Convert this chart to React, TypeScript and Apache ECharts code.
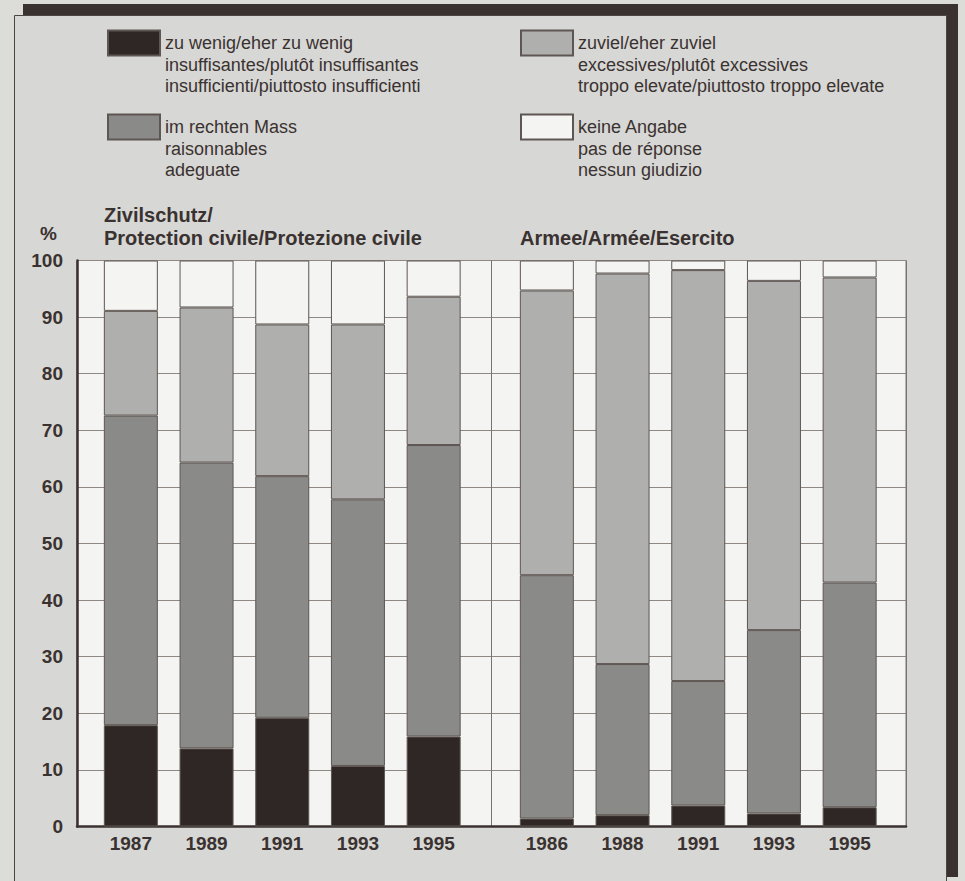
import React, { useEffect, useRef } from "react";
import * as echarts from "echarts";

const yearsZivil = ["1987", "1989", "1991", "1993", "1995"];
const yearsArmee = ["1986", "1988", "1991", "1993", "1995"];

const zivilLow = [17.9, 13.8, 19.2, 10.7, 15.9];
const zivilOk = [54.7, 50.5, 42.7, 47.1, 51.5];
const zivilHigh = [18.5, 27.4, 26.8, 30.9, 26.2];
const zivilNa = [8.9, 8.3, 11.3, 11.3, 6.4];

const armeeLow = [1.4, 2.0, 3.7, 2.3, 3.4];
const armeeOk = [43.0, 26.7, 22.0, 32.4, 39.7];
const armeeHigh = [50.3, 69.0, 72.6, 61.7, 53.9];
const armeeNa = [5.3, 2.3, 1.7, 3.6, 3.0];

const N_LOW = "zu wenig/eher zu wenig\ninsuffisantes/plutôt insuffisantes\ninsufficienti/piuttosto insufficienti";
const N_OK = "im rechten Mass\nraisonnables\nadeguate";
const N_HIGH = "zuviel/eher zuviel\nexcessives/plutôt excessives\ntroppo elevate/piuttosto troppo elevate";
const N_NA = "keine Angabe\npas de réponse\nnessun giudizio";

const TITLE_ZIVIL = "Zivilschutz/\nProtection civile/Protezione civile";
const TITLE_ARMEE = "Armee/Armée/Esercito";

const FONT = "Liberation Sans";
const INK = "#3a3230";
const COLORS: Record<string, string> = {
  [N_LOW]: "#2f2725",
  [N_OK]: "#8a8a88",
  [N_HIGH]: "#afafad",
  [N_NA]: "#f4f4f2",
};

export default function App() {
  const ref = useRef<HTMLDivElement>(null);

  useEffect(() => {
    if (!ref.current) return;
    const chart = echarts.init(ref.current, undefined, { renderer: "svg" });

    const mk = (name: string, data: number[], idx: number, stack: string) => ({
      type: "bar",
      name,
      data,
      xAxisIndex: idx,
      yAxisIndex: idx,
      stack,
      barWidth: 54,
      itemStyle: { color: COLORS[name], borderColor: "#5e5652", borderWidth: 1 },
      emphasis: { disabled: true },
    });

    const LH = 21.5;
    // text block: two blank lines + three text lines, centred on icon centre
    const legendBase = (name: string, left: number, iconCenter: number) => ({
      data: [name],
      left,
      top: iconCenter - 2.5 * LH,
      orient: "vertical",
      padding: 0,
      itemGap: 0,
      itemWidth: 52,
      itemHeight: 25,
      icon: "rect",
      selectedMode: false,
      formatter: (n: string) => "\n\n" + n,
      textStyle: {
        fontFamily: FONT,
        fontSize: 18,
        lineHeight: LH,
        color: INK,
      },
    });

    const gridTop = 260.5;
    const gridH = 566;

    chart.setOption({
      animation: false,
      backgroundColor: "#dcdcd9",
      textStyle: { fontFamily: FONT },
      graphic: [
        {
          type: "rect",
          z: -100,
          silent: true,
          shape: { x: 23, y: 4, width: 935, height: 873 },
          style: { fill: "#3a3230" },
        },
        {
          type: "rect",
          z: -99,
          silent: true,
          shape: { x: 14.5, y: 15.5, width: 932, height: 880 },
          style: { fill: "#d7d7d5", stroke: "#4d4542", lineWidth: 1 },
        },
      ],
      title: [
        {
          text: "%",
          left: 40,
          top: 223,
          padding: 0,
          textStyle: { fontFamily: FONT, fontSize: 19, fontWeight: "bold", color: INK, lineHeight: 20 },
        },
        {
          text: TITLE_ZIVIL,
          left: 104,
          top: 204,
          padding: 0,
          textStyle: { fontFamily: FONT, fontSize: 20, fontWeight: "bold", color: INK, lineHeight: 22.5 },
        },
        {
          text: TITLE_ARMEE,
          left: 520,
          top: 226.5,
          padding: 0,
          textStyle: { fontFamily: FONT, fontSize: 20, fontWeight: "bold", color: INK, lineHeight: 22.5 },
        },
      ],
      legend: [
        legendBase(N_LOW, 107, 43),
        legendBase(N_HIGH, 520, 43),
        legendBase(N_OK, 107, 127),
        legendBase(N_NA, 520, 127),
      ],
      grid: [
        {
          left: 77,
          top: gridTop,
          width: 829,
          height: gridH,
          show: true,
          backgroundColor: "#f4f4f2",
          borderColor: "#7a726e",
          borderWidth: 1,
        },
        { left: 93, top: gridTop, width: 378.5, height: gridH },
        { left: 509, top: gridTop, width: 378.5, height: gridH },
      ],
      xAxis: [
        {
          gridIndex: 0,
          type: "value",
          min: 0,
          max: 2,
          interval: 1,
          axisLabel: { show: false },
          axisTick: { show: false },
          axisLine: { show: true, onZero: false, lineStyle: { color: INK, width: 2.5 } },
          splitLine: { show: true, lineStyle: { color: "#7a726e", width: 1 } },
        },
        {
          gridIndex: 1,
          type: "category",
          data: yearsZivil,
          axisLine: { show: false },
          axisTick: { show: false },
          axisLabel: { fontFamily: FONT, fontSize: 19, fontWeight: "bold", color: INK, margin: 7 },
        },
        {
          gridIndex: 2,
          type: "category",
          data: yearsArmee,
          axisLine: { show: false },
          axisTick: { show: false },
          axisLabel: { fontFamily: FONT, fontSize: 19, fontWeight: "bold", color: INK, margin: 7 },
        },
      ],
      yAxis: [
        {
          gridIndex: 0,
          type: "value",
          min: 0,
          max: 100,
          interval: 10,
          axisLine: { show: true, lineStyle: { color: INK, width: 2.5 } },
          axisTick: { show: false },
          axisLabel: { fontFamily: FONT, fontSize: 19, fontWeight: "bold", color: INK, margin: 14 },
          splitLine: { show: true, lineStyle: { color: "#8e8782", width: 1 } },
        },
        { gridIndex: 1, type: "value", min: 0, max: 100, show: false },
        { gridIndex: 2, type: "value", min: 0, max: 100, show: false },
      ],
      series: [
        mk(N_LOW, zivilLow, 1, "zivil"),
        mk(N_OK, zivilOk, 1, "zivil"),
        mk(N_HIGH, zivilHigh, 1, "zivil"),
        mk(N_NA, zivilNa, 1, "zivil"),
        mk(N_LOW, armeeLow, 2, "armee"),
        mk(N_OK, armeeOk, 2, "armee"),
        mk(N_HIGH, armeeHigh, 2, "armee"),
        mk(N_NA, armeeNa, 2, "armee"),
      ],
    });

    return () => chart.dispose();
  }, []);

  return (
    <div
      ref={ref}
      style={{ position: "fixed", left: 0, top: 0, width: 965, height: 881 }}
    />
  );
}
